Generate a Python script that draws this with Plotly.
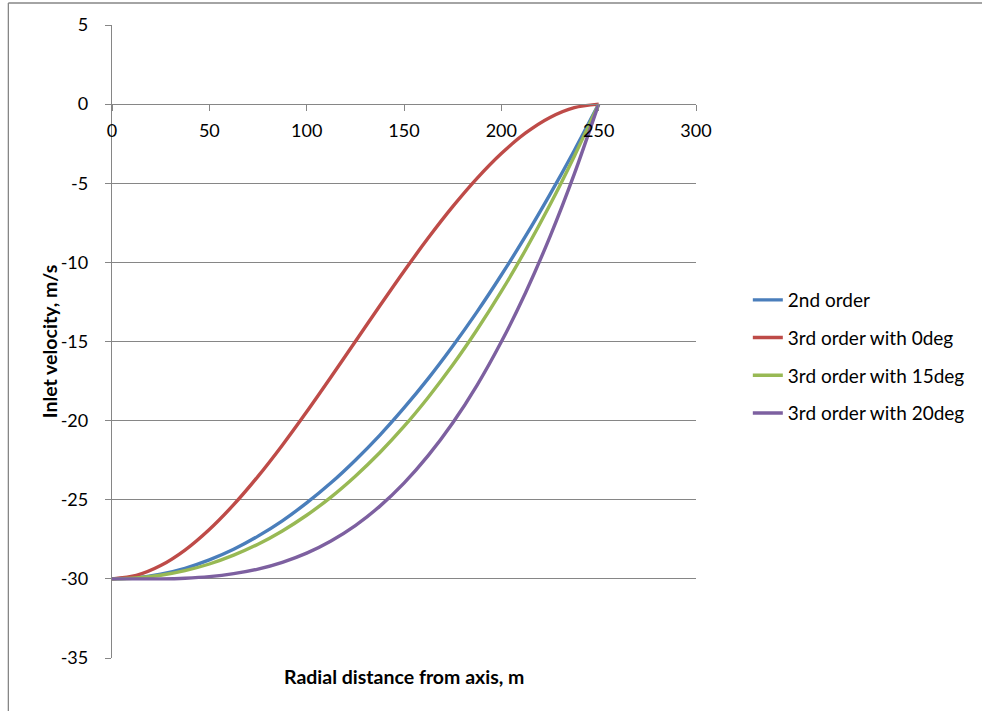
import plotly.graph_objects as go

# Radial stations (m) and inlet velocity profiles (m/s)
radius = [0, 12.5, 25, 37.5, 50, 62.5, 75, 87.5, 100, 112.5, 125, 137.5,
          150, 162.5, 175, 187.5, 200, 212.5, 225, 237.5, 250]

v_2nd = [-30.00, -29.93, -29.70, -29.33, -28.80, -28.13, -27.30, -26.33,
         -25.20, -23.93, -22.50, -20.93, -19.20, -17.33, -15.30, -13.13,
         -10.80, -8.33, -5.70, -2.93, 0.00]

v_3rd_0deg = [-30.00, -29.78, -29.16, -28.18, -26.88, -25.31, -23.52, -21.55,
              -19.44, -17.24, -15.00, -12.76, -10.56, -8.45, -6.48, -4.69,
              -3.12, -1.82, -0.84, -0.22, 0.00]

v_3rd_15deg = [-30.00, -29.94, -29.77, -29.48, -29.06, -28.50, -27.81, -26.97,
               -25.98, -24.83, -23.51, -22.03, -20.37, -18.52, -16.49, -14.26,
               -11.84, -9.20, -6.36, -3.29, 0.00]

v_3rd_20deg = [-30.00, -30.00, -30.00, -29.96, -29.86, -29.67, -29.38, -28.95,
               -28.37, -27.60, -26.63, -25.42, -23.95, -22.20, -20.15, -17.77,
               -15.02, -11.90, -8.37, -4.41, 0.00]

series_names = ["2nd order", "3rd order with 0deg",
                "3rd order with 15deg", "3rd order with 20deg"]
series_values = [v_2nd, v_3rd_0deg, v_3rd_15deg, v_3rd_20deg]
series_colors = ["#4A7EBB", "#BE4B48", "#98B954", "#7D60A0"]

x_ticks = [0, 50, 100, 150, 200, 250, 300]
y_ticks = [5, 0, -5, -10, -15, -20, -25, -30, -35]

W, H = 982, 711
L, R, T, B = 112, 284, 25, 53
plot_w = W - L - R
plot_h = H - T - B

FONT = "Lato"
GRID = "#868686"

def px_to_paper_x(px):
    return (px - L) / plot_w

def px_to_paper_y(py):
    return (H - B - py) / plot_h

fig = go.Figure()
for i, (name, vals, col) in enumerate(zip(series_names, series_values, series_colors)):
    fig.add_trace(go.Scatter(
        x=radius, y=vals, name=name, mode="lines",
        line=dict(color=col, width=3.4, shape="spline", smoothing=0.8),
        legendgroup=f"g{i}",
    ))

y_zero_frac = (0 - (-35)) / (5 - (-35))

fig.update_layout(
    width=W, height=H,
    margin=dict(l=L, r=R, t=T, b=B),
    paper_bgcolor="white", plot_bgcolor="white",
    font=dict(family=FONT, size=18, color="#000000"),
    xaxis=dict(
        range=[0, 300], tickvals=x_ticks, ticktext=[str(v) for v in x_ticks],
        showgrid=False, zeroline=False,
        showline=True, linecolor=GRID, linewidth=1.3,
        ticks="outside", ticklen=6, tickcolor=GRID, tickwidth=1.3,
        anchor="free", position=y_zero_frac,
        ticklabelstandoff=4,
        tickfont=dict(family=FONT, size=18, color="#000000"),
    ),
    yaxis=dict(
        range=[-35, 5], tickvals=y_ticks, ticktext=[str(v) for v in y_ticks],
        showgrid=True, gridcolor=GRID, gridwidth=1.3, zeroline=False,
        showline=True, linecolor=GRID, linewidth=1.3,
        ticks="outside", ticklen=6, tickcolor=GRID, tickwidth=1.3,
        ticklabelstandoff=13,
        tickfont=dict(family=FONT, size=18, color="#000000"),
    ),
    legend=dict(
        x=px_to_paper_x(750), y=px_to_paper_y(281),
        xanchor="left", yanchor="top",
        font=dict(family=FONT, size=19, color="#000000"),
        tracegroupgap=10, bgcolor="rgba(0,0,0,0)",
    ),
    showlegend=True,
)

# Axis titles
fig.add_annotation(
    text="<b>Radial distance from axis, m</b>",
    x=0.5, y=px_to_paper_y(676), xref="paper", yref="paper",
    showarrow=False, xanchor="center", yanchor="middle",
    font=dict(family=FONT, size=19.5, color="#000000"),
)
fig.add_annotation(
    text="<b>Inlet velocity, m/s</b>",
    x=px_to_paper_x(49), y=px_to_paper_y(342), xref="paper", yref="paper",
    showarrow=False, xanchor="center", yanchor="middle", textangle=-90,
    font=dict(family=FONT, size=19.5, color="#000000"),
)

# Chart-area border (top and left edges)
fig.add_shape(type="line", xref="paper", yref="paper",
              x0=px_to_paper_x(8), x1=px_to_paper_x(990),
              y0=px_to_paper_y(3), y1=px_to_paper_y(3),
              line=dict(color=GRID, width=1.3))
fig.add_shape(type="line", xref="paper", yref="paper",
              x0=px_to_paper_x(8), x1=px_to_paper_x(8),
              y0=px_to_paper_y(3), y1=px_to_paper_y(720),
              line=dict(color=GRID, width=1.3))

fig.write_html("out.html")
